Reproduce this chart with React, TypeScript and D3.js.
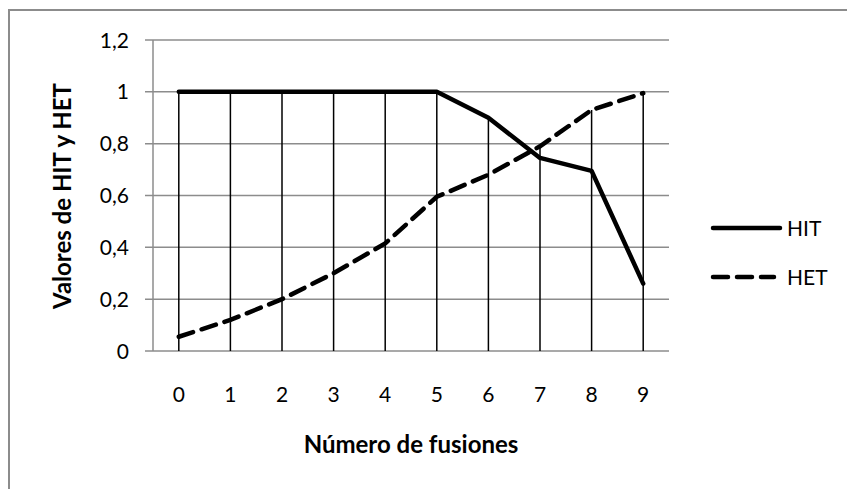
import React, { useRef, useEffect } from "react";
import * as d3 from "d3";

// fusion steps on the x axis
const fusiones = ["0", "1", "2", "3", "4", "5", "6", "7", "8", "9"];
const hit = [1, 1, 1, 1, 1, 1, 0.9, 0.745, 0.695, 0.26];
const het = [0.055, 0.12, 0.2, 0.3, 0.415, 0.595, 0.68, 0.79, 0.93, 0.995];
const yTicks = [0, 0.2, 0.4, 0.6, 0.8, 1, 1.2];

export default function App() {
  const svgRef = useRef<SVGSVGElement>(null);

  useEffect(() => {
    const W = 847;
    const H = 489;
    const font = "Lato, 'Open Sans', sans-serif";
    const left = 153, right = 669, top = 40, bottom = 351;

    const svg = d3.select(svgRef.current).attr("width", W).attr("height", H);
    svg.selectAll("*").remove();

    svg.append("rect").attr("width", W).attr("height", H).attr("fill", "#fff");

    // chart frame, runs off the picture on the right and bottom
    svg
      .append("rect")
      .attr("x", 9)
      .attr("y", 10)
      .attr("width", W + 20)
      .attr("height", H + 20)
      .attr("fill", "none")
      .attr("stroke", "#8c8c8c")
      .attr("stroke-width", 2);

    const x = d3.scalePoint().domain(fusiones).range([left, right]).padding(0.5);
    const y = d3.scaleLinear().domain([0, 1.2]).range([bottom, top]);

    // horizontal gridlines
    svg
      .append("g")
      .selectAll("line")
      .data(yTicks)
      .join("line")
      .attr("x1", left - 8)
      .attr("x2", right)
      .attr("y1", (d) => y(d))
      .attr("y2", (d) => y(d))
      .attr("stroke", "#8c8c8c")
      .attr("stroke-width", 1.5);

    // y axis line
    svg
      .append("line")
      .attr("x1", left)
      .attr("x2", left)
      .attr("y1", top)
      .attr("y2", bottom)
      .attr("stroke", "#8c8c8c")
      .attr("stroke-width", 1.5);

    // y tick labels
    svg
      .append("g")
      .selectAll("text")
      .data(yTicks)
      .join("text")
      .attr("x", 129)
      .attr("y", (d) => y(d))
      .attr("dy", "0.36em")
      .attr("text-anchor", "end")
      .style("font-family", font)
      .style("font-size", "21px")
      .text((d) => String(d).replace(".", ","));

    // x tick labels
    svg
      .append("g")
      .selectAll("text")
      .data(fusiones)
      .join("text")
      .attr("x", (d) => x(d)!)
      .attr("y", 402)
      .attr("text-anchor", "middle")
      .style("font-family", font)
      .style("font-size", "21px")
      .text((d) => d);

    // drop lines from the upper series down to the baseline
    svg
      .append("g")
      .selectAll("line")
      .data(fusiones)
      .join("line")
      .attr("x1", (d) => x(d)!)
      .attr("x2", (d) => x(d)!)
      .attr("y1", (d, i) => y(Math.max(hit[i], het[i])))
      .attr("y2", bottom)
      .attr("stroke", "#000")
      .attr("stroke-width", 1.5);

    const line = d3
      .line<number>()
      .x((d, i) => x(fusiones[i])!)
      .y((d) => y(d));

    svg
      .append("path")
      .datum(het)
      .attr("d", line)
      .attr("fill", "none")
      .attr("stroke", "#000")
      .attr("stroke-width", 4.5)
      .attr("stroke-dasharray", "15,9")
      .attr("stroke-linecap", "round");

    svg
      .append("path")
      .datum(hit)
      .attr("d", line)
      .attr("fill", "none")
      .attr("stroke", "#000")
      .attr("stroke-width", 4.5)
      .attr("stroke-linejoin", "round")
      .attr("stroke-linecap", "round");

    // legend
    const legend = [
      { name: "HIT", dash: null, y: 228 },
      { name: "HET", dash: "15,9", y: 277 },
    ];
    const lg = svg.append("g");
    legend.forEach((s) => {
      lg.append("line")
        .attr("x1", 713)
        .attr("x2", s.dash ? 774 : 780)
        .attr("y1", s.y)
        .attr("y2", s.y)
        .attr("stroke", "#000")
        .attr("stroke-width", 4.5)
        .attr("stroke-linecap", "round")
        .attr("stroke-dasharray", s.dash);
      lg.append("text")
        .attr("x", 787)
        .attr("y", s.y)
        .attr("dy", "0.36em")
        .style("font-family", font)
        .style("font-size", "21px")
        .text(s.name);
    });

    // axis titles
    svg
      .append("text")
      .attr("x", 411)
      .attr("y", 453)
      .attr("text-anchor", "middle")
      .style("font-family", font)
      .style("font-size", "24px")
      .style("font-weight", "bold")
      .text("Número de fusiones");

    svg
      .append("text")
      .attr("transform", "translate(71,196) rotate(-90)")
      .attr("text-anchor", "middle")
      .style("font-family", font)
      .style("font-size", "24px")
      .style("font-weight", "bold")
      .text("Valores de HIT y HET");
  }, []);

  return (
    <svg
      ref={svgRef}
      style={{ position: "absolute", left: 0, top: 0, display: "block" }}
    ></svg>
  );
}
